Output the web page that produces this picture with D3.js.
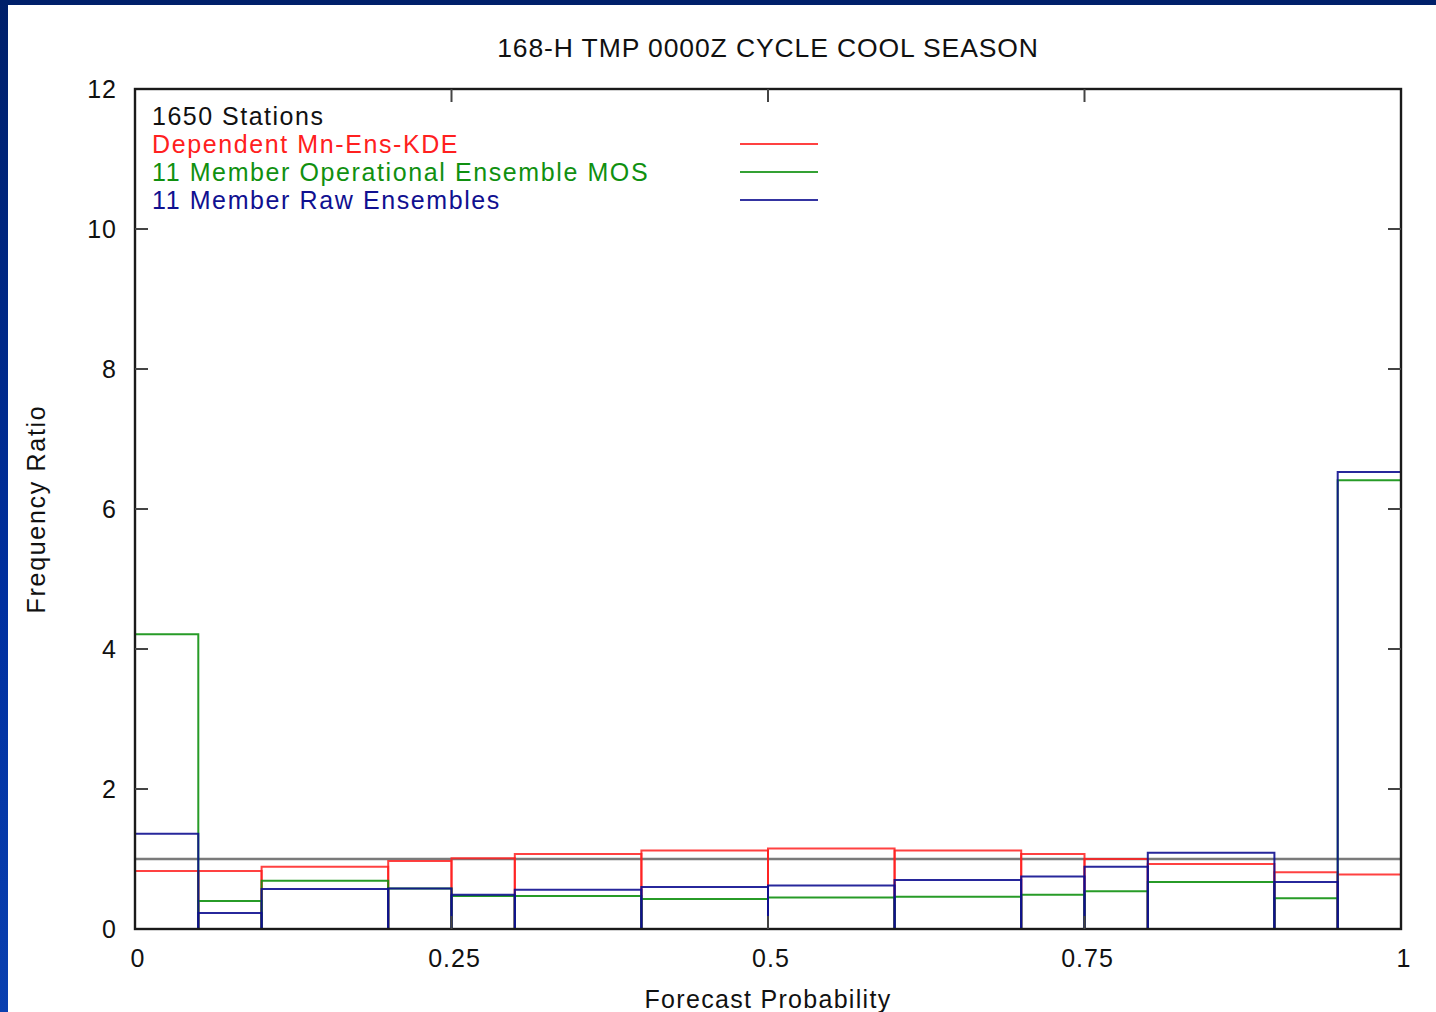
<!DOCTYPE html>
<html>
<head>
<meta charset="utf-8">
<script src="https://cdn.jsdelivr.net/npm/d3@7"></script>
<style>
html,body{margin:0;padding:0;width:1436px;height:1012px;overflow:hidden;}
body{background:linear-gradient(to bottom,#00206a 0%,#0030a0 60%,#0a40b0 100%);}
svg{display:block;}
text{font-family:"Liberation Sans",Arial,sans-serif;}
</style>
</head>
<body>
<svg id="chart" width="1436" height="1012"></svg>
<script>
// Bin edges (forecast probability)
const binEdges = [0, 0.05, 0.1, 0.2, 0.25, 0.3, 0.4, 0.5, 0.6, 0.7, 0.75, 0.8, 0.9, 0.95, 1];
// Frequency ratio per bin
const kdeValues = [0.83, 0.83, 0.89, 0.97, 1.01, 1.07, 1.12, 1.15, 1.12, 1.07, 1.00, 0.93, 0.81, 0.78];
const mosValues = [4.21, 0.40, 0.69, 0.58, 0.47, 0.47, 0.43, 0.45, 0.46, 0.49, 0.54, 0.67, 0.44, 6.41];
const rawValues = [1.36, 0.23, 0.57, 0.58, 0.49, 0.56, 0.60, 0.62, 0.70, 0.75, 0.89, 1.09, 0.67, 6.53];
const seriesNames = ["Dependent Mn-Ens-KDE", "11 Member Operational Ensemble MOS", "11 Member Raw Ensembles"];
const seriesColors = ["#ff2020", "#109010", "#101090"];
const xTicks = [0, 0.25, 0.5, 0.75, 1];
const xTickLabels = ["0", "0.25", "0.5", "0.75", "1"];
const yTicks = [0, 2, 4, 6, 8, 10, 12];
const refValue = 1;
const titleText = "168-H TMP 0000Z CYCLE COOL SEASON";
const stationsText = "1650 Stations";

const svg = d3.select("#chart");
svg.append("rect").attr("x", 8).attr("y", 5).attr("width", 1436 - 8).attr("height", 1012 - 5).attr("fill", "#fff");

const pL = 135, pR = 1401, pT = 89, pB = 929;
const x = d3.scaleLinear().domain([0, 1]).range([pL, pR]);
const y = d3.scaleLinear().domain([0, 12]).range([pB, pT]);

// reference line
svg.append("line").attr("x1", x(0)).attr("x2", x(1)).attr("y1", y(refValue)).attr("y2", y(refValue))
  .attr("stroke", "#7a7a7a").attr("stroke-width", 2.6);

// boxes for each series
const allSeries = [kdeValues, mosValues, rawValues];
allSeries.forEach((vals, si) => {
  const g = svg.append("g");
  vals.forEach((v, i) => {
    const x0 = x(binEdges[i]), x1 = x(binEdges[i + 1]);
    g.append("path")
      .attr("d", `M${x0},${y(0)}V${y(v)}H${x1}V${y(0)}`)
      .attr("fill", "none").attr("stroke", seriesColors[si]).attr("stroke-width", 2)
      .attr("stroke-opacity", si === 0 ? 0.85 : 0.9);
  });
});

// frame
svg.append("rect").attr("x", pL).attr("y", pT).attr("width", pR - pL).attr("height", pB - pT)
  .attr("fill", "none").attr("stroke", "#1a1a1a").attr("stroke-width", 2.4);

// ticks (mirrored)
const tickLen = 13;
yTicks.forEach(t => {
  if (t === 0 || t === 12) return;
  svg.append("line").attr("x1", pL).attr("x2", pL + tickLen).attr("y1", y(t)).attr("y2", y(t))
    .attr("stroke", "#444").attr("stroke-width", 2);
  svg.append("line").attr("x1", pR - tickLen).attr("x2", pR).attr("y1", y(t)).attr("y2", y(t))
    .attr("stroke", "#444").attr("stroke-width", 2);
});
xTicks.forEach(t => {
  if (t === 0 || t === 1) return;
  svg.append("line").attr("x1", x(t)).attr("x2", x(t)).attr("y1", pT).attr("y2", pT + tickLen)
    .attr("stroke", "#444").attr("stroke-width", 2);
  svg.append("line").attr("x1", x(t)).attr("x2", x(t)).attr("y1", pB - tickLen).attr("y2", pB)
    .attr("stroke", "#444").attr("stroke-width", 2);
});

// tick labels
const fs = 25;
yTicks.forEach(t => {
  svg.append("text").attr("x", 117).attr("y", y(t)).attr("dy", "0.36em").attr("text-anchor", "end")
    .attr("font-size", fs).attr("fill", "#111").attr("letter-spacing", 1).text(String(t));
});
xTicks.forEach((t, i) => {
  svg.append("text").attr("x", x(t) + 3).attr("y", 967).attr("text-anchor", "middle")
    .attr("font-size", fs).attr("fill", "#111").attr("letter-spacing", 1).text(xTickLabels[i]);
});

// title and axis labels
svg.append("text").attr("x", 768).attr("y", 57).attr("text-anchor", "middle")
  .attr("font-size", 26.5).attr("fill", "#111").attr("letter-spacing", 0.9).text(titleText);
svg.append("text").attr("x", 768).attr("y", 1008).attr("text-anchor", "middle")
  .attr("font-size", fs).attr("fill", "#111").attr("letter-spacing", 1.3).text("Forecast Probability");
svg.append("text").attr("transform", "translate(45,509) rotate(-90)").attr("text-anchor", "middle")
  .attr("font-size", fs).attr("fill", "#111").attr("letter-spacing", 1.7).text("Frequency Ratio");

// legend
svg.append("text").attr("x", 152).attr("y", 125).attr("font-size", fs).attr("fill", "#111")
  .attr("letter-spacing", 1.5).text(stationsText);
seriesNames.forEach((n, i) => {
  const yy = 153 + i * 28;
  svg.append("text").attr("x", 152).attr("y", yy).attr("font-size", fs).attr("fill", seriesColors[i])
    .attr("letter-spacing", 1.6).text(n);
  svg.append("line").attr("x1", 740).attr("x2", 818).attr("y1", yy - 9).attr("y2", yy - 9)
    .attr("stroke", seriesColors[i]).attr("stroke-width", 2).attr("stroke-opacity", 0.85);
});
</script>
</body>
</html>
